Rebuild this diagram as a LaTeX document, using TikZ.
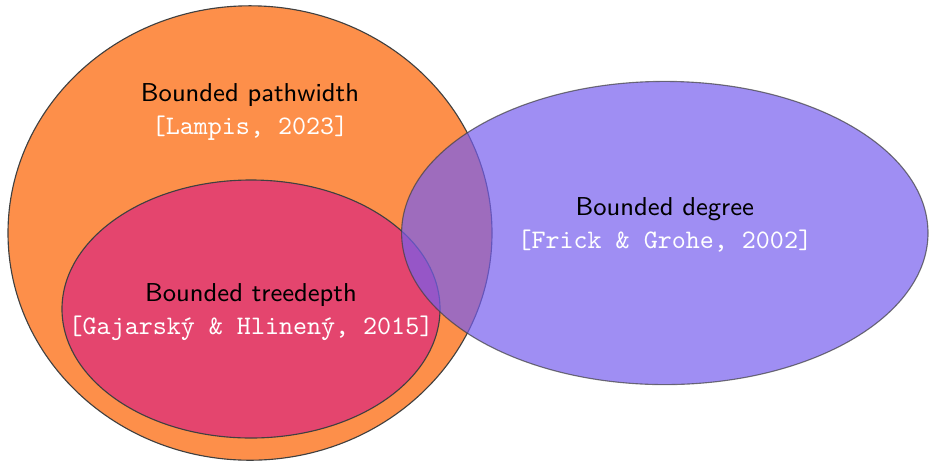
\documentclass[tikz,border=0pt]{standalone}
\usepackage{xcolor}
\usepackage{tikz}
\usetikzlibrary{positioning}

\definecolor{pathorange}{RGB}{253,143,74}
\definecolor{treered}{RGB}{228,69,110}
\definecolor{degblue}{RGB}{118,94,238}

\begin{document}
\begin{tikzpicture}[every node/.style={font=\fontsize{9.2}{11}\sffamily, align=center},
    cite/.style={font=\fontsize{9.5}{11}\ttfamily, text=white}]

    \useasboundingbox (0,0) rectangle (11.6125,5.7625);

    % Insiemi
    \filldraw[fill=pathorange, draw=black!75] (3.125,2.85) ellipse (3.025 and 2.84);
    \filldraw[fill=treered, draw=black!75] (3.1375,1.9) ellipse (2.3625 and 1.6125);
    \filldraw[fill=degblue, draw=black!75, opacity=0.7] (8.31,2.85) ellipse (3.29 and 1.895);

    % Etichette
    \node (pw) at (3.125,4.57) {Bounded pathwidth};
    \node[cite, below=-0.13cm of pw] (pwcite) {[Lampis, 2023]};
    \node (td) at (3.1375,2.08) {Bounded treedepth};
    \node[cite, below=-0.13cm of td] (tdcite) {[Gajarsk\'y \& Hlinen\'y, 2015]};
    \node (deg) at (8.31,3.15) {Bounded degree};
    \node[cite, below=-0.13cm of deg] (degcite) {[Frick \& Grohe, 2002]};
\end{tikzpicture}
\end{document}
